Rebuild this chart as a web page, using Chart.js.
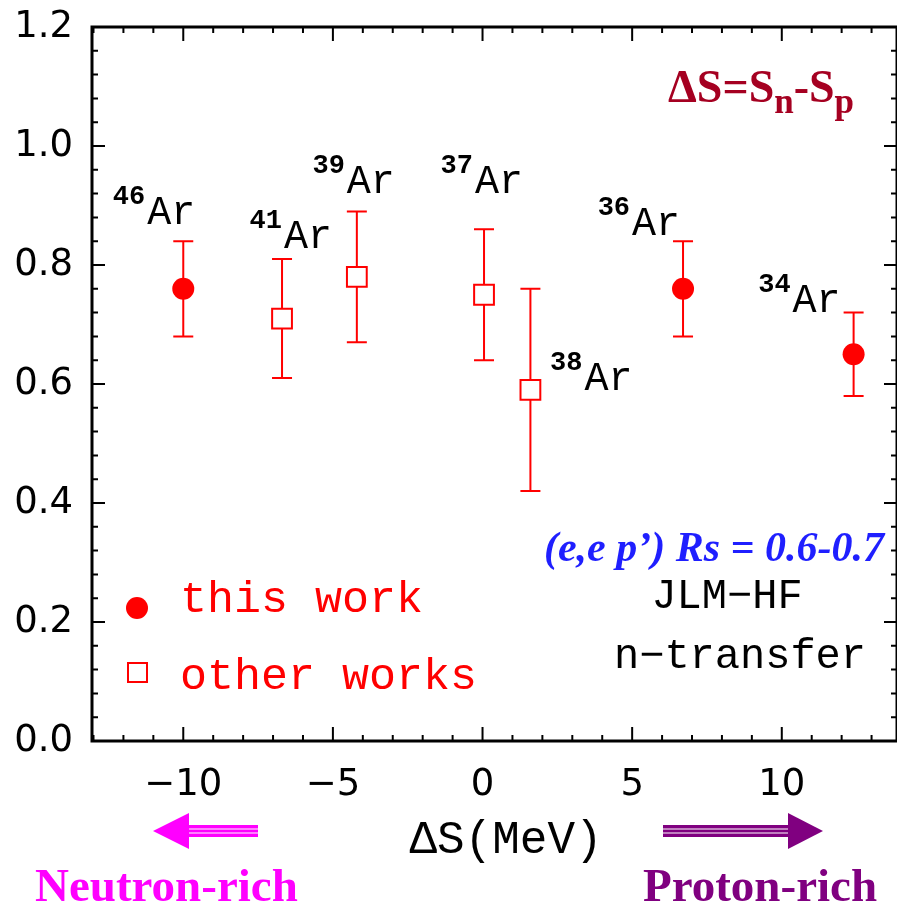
<!DOCTYPE html>
<html>
<head>
<meta charset="utf-8">
<title>Rs vs ΔS for Ar isotopes</title>
<script src="https://cdn.jsdelivr.net/npm/chart.js@4.4.1/dist/chart.umd.min.js"></script>
<style>
  html, body { margin: 0; padding: 0; background: #fff; overflow: hidden; }
  canvas { display: block; }
</style>
</head>
<body>
<canvas id="rsChart" width="897" height="906"></canvas>
<script>
// mass numbers of the Ar isotopes
let massNumbers = ['46', '41', '39', '37', '38', '36', '34']
// ΔS = Sn - Sp (MeV)
let deltaS = [-10.0, -6.7, -4.2, 0.05, 1.6, 6.7, 12.4]
// reduction factor Rs with its error bar limits
let rsValues = [0.76, 0.71, 0.78, 0.75, 0.59, 0.76, 0.65]
let rsLow = [0.68, 0.61, 0.67, 0.64, 0.42, 0.68, 0.58]
let rsHigh = [0.84, 0.81, 0.89, 0.86, 0.76, 0.84, 0.72]
let fromThisWork = [true, false, false, false, false, true, true]

let xTicks = [-10, -5, 0, 5, 10]
let yTicks = [0, 0.2, 0.4, 0.6, 0.8, 1.0, 1.2]

// where the isotope name sits: left edge of "Ar" and its baseline, relative to the point
let labelOffsets = [[-36, -65], [2, -71], [-10, -84], [-9, -102], [54, 0], [-51, -54], [-61, -42]]

const RED = '#ff0000'
const MONO = '"Liberation Mono", "DejaVu Sans Mono", monospace'
const SERIF = '"Liberation Serif", "DejaVu Serif", serif'

function pointsFor(flag) {
  let pts = []
  deltaS.forEach((x, i) => {
    if (fromThisWork[i] === flag) pts.push({ x: x, y: rsValues[i] })
  })
  return pts
}

let extras = {
  id: 'extras',
  beforeDatasetsDraw(chart) {
    let ctx = chart.ctx
    let xs = chart.scales.x, ys = chart.scales.y
    ctx.save()
    ctx.strokeStyle = RED
    ctx.lineWidth = 2
    deltaS.forEach((x, i) => {
      let px = xs.getPixelForValue(x)
      let lo = ys.getPixelForValue(rsLow[i])
      let hi = ys.getPixelForValue(rsHigh[i])
      ctx.beginPath()
      ctx.moveTo(px, lo); ctx.lineTo(px, hi)
      ctx.moveTo(px - 10, lo); ctx.lineTo(px + 10, lo)
      ctx.moveTo(px - 10, hi); ctx.lineTo(px + 10, hi)
      ctx.stroke()
    })
    ctx.restore()
  },
  afterDraw(chart) {
    let ctx = chart.ctx
    let ca = chart.chartArea
    let xs = chart.scales.x, ys = chart.scales.y
    ctx.save()

    // frame
    ctx.strokeStyle = '#000'
    ctx.lineWidth = 3
    ctx.strokeRect(ca.left, ca.top, ca.right - ca.left, ca.bottom - ca.top)

    // inward ticks on all four sides
    ctx.lineWidth = 2
    ctx.beginPath()
    for (let k = -13; k <= 13; k++) {
      let px = xs.getPixelForValue(k)
      let len = (k % 5 === 0) ? 14 : 6
      ctx.moveTo(px, ca.bottom); ctx.lineTo(px, ca.bottom - len)
      ctx.moveTo(px, ca.top); ctx.lineTo(px, ca.top + len)
    }
    for (let k = 0; k <= 30; k++) {
      let py = ys.getPixelForValue(k * 0.04)
      let len = (k % 5 === 0) ? 13 : 6
      ctx.moveTo(ca.left, py); ctx.lineTo(ca.left + len, py)
      ctx.moveTo(ca.right, py); ctx.lineTo(ca.right - len, py)
    }
    ctx.stroke()

    // isotope names
    ctx.fillStyle = '#000'
    ctx.textBaseline = 'alphabetic'
    deltaS.forEach((x, i) => {
      let px = xs.getPixelForValue(x) + labelOffsets[i][0]
      let py = ys.getPixelForValue(rsValues[i]) + labelOffsets[i][1]
      ctx.font = '40px ' + MONO
      ctx.textAlign = 'left'
      ctx.fillText('Ar', px, py)
      ctx.font = 'bold 27px ' + MONO
      ctx.textAlign = 'right'
      ctx.fillText(massNumbers[i], px - 2, py - 20)
    })

    // legend
    ctx.fillStyle = RED
    ctx.beginPath()
    ctx.arc(137, 608, 11, 0, Math.PI * 2)
    ctx.fill()
    ctx.strokeStyle = RED
    ctx.lineWidth = 2
    ctx.strokeRect(128, 663, 19, 19)
    ctx.font = '45px ' + MONO
    ctx.textAlign = 'left'
    ctx.fillText('this work', 180, 612)
    ctx.fillText('other works', 180, 689)

    // model notes
    ctx.fillStyle = '#1f1fff'
    ctx.font = 'italic bold 42px ' + SERIF
    ctx.textAlign = 'right'
    ctx.fillText('(e,e p\u2019) Rs = 0.6-0.7', 884, 561)
    ctx.fillStyle = '#000'
    ctx.font = '42px ' + MONO
    ctx.textAlign = 'center'
    ctx.fillText('JLM\u2212HF', 727, 608)
    ctx.fillText('n\u2212transfer', 740, 668)

    // ΔS definition
    ctx.fillStyle = '#a50021'
    ctx.textAlign = 'left'
    let tx = 668
    let parts = [['\u0394S=S', 0, 46], ['n', 11, 35], ['-S', 0, 46], ['p', 11, 35]]
    parts.forEach(p => {
      ctx.font = 'bold ' + p[2] + 'px ' + SERIF
      ctx.fillText(p[0], tx, 102 + p[1])
      tx += ctx.measureText(p[0]).width
    })

    // axis title
    ctx.fillStyle = '#000'
    ctx.font = '46px ' + MONO
    ctx.textAlign = 'center'
    ctx.fillText('\u0394S(MeV)', 506, 853)

    // direction arrows
    drawArrow(ctx, 258, 189, 153, 831, '#ff00ff')
    drawArrow(ctx, 663, 788, 823, 831, '#800080')

    ctx.font = 'bold 47px ' + SERIF
    ctx.textAlign = 'left'
    ctx.fillStyle = '#ff00ff'
    ctx.fillText('Neutron-rich', 35, 901)
    ctx.fillStyle = '#800080'
    ctx.fillText('Proton-rich', 643, 901)

    ctx.restore()
  }
}

// triple-lined shaft from x0 to x1, triangular head from x1 to the tip
function drawArrow(ctx, x0, x1, tip, y, color) {
  ctx.fillStyle = color
  let a = Math.min(x0, x1), b = Math.max(x0, x1)
  ctx.fillRect(a, y - 6, b - a, 12)
  ctx.fillStyle = '#fff'
  ctx.fillRect(a, y - 2.5, b - a, 1)
  ctx.fillRect(a, y + 1.5, b - a, 1)
  ctx.fillStyle = color
  ctx.beginPath()
  ctx.moveTo(x1, y - 18)
  ctx.lineTo(tip, y)
  ctx.lineTo(x1, y + 18)
  ctx.closePath()
  ctx.fill()
}

let ctx = document.querySelector('#rsChart').getContext('2d')

let rsChart = new Chart(ctx, {
  type: 'scatter',
  data: {
    datasets: [{
      label: 'this work',
      data: pointsFor(true),
      pointStyle: 'circle',
      pointRadius: 11,
      backgroundColor: RED,
      borderColor: RED,
      borderWidth: 0
    }, {
      label: 'other works',
      data: pointsFor(false),
      pointStyle: 'rect',
      pointRadius: 14,
      backgroundColor: '#fff',
      borderColor: RED,
      borderWidth: 2
    }]
  },
  options: {
    responsive: false,
    animation: false,
    events: [],
    // no extra room for the markers: the frame runs to the right edge of the canvas
    layout: { autoPadding: false, padding: { top: 27, right: 0, left: 0, bottom: 0 } },
    plugins: {
      legend: { display: false },
      tooltip: { enabled: false }
    },
    scales: {
      x: {
        type: 'linear',
        min: -13.05,
        max: 13.85,
        afterBuildTicks: s => { s.ticks = xTicks.map(v => ({ value: v })) },
        afterFit: s => { s.height = 165; s.paddingLeft = 0; s.paddingRight = 0 },
        grid: { display: false, drawTicks: false },
        border: { display: false },
        ticks: {
          font: { family: '"DejaVu Sans", sans-serif', size: 37 },
          color: '#000',
          padding: 22,
          maxRotation: 0,
          autoSkip: false,
          callback: v => v < 0 ? '\u2212' + Math.abs(v) : String(v)
        }
      },
      y: {
        min: 0,
        max: 1.2,
        afterBuildTicks: s => { s.ticks = yTicks.map(v => ({ value: v })) },
        afterFit: s => { s.width = 92; s.paddingTop = 0; s.paddingBottom = 0 },
        grid: { display: false, drawTicks: false },
        border: { display: false },
        ticks: {
          font: { family: '"DejaVu Sans", sans-serif', size: 37 },
          color: '#000',
          padding: 19,
          autoSkip: false,
          callback: v => v.toFixed(1)
        }
      }
    }
  },
  plugins: [extras]
})
</script>
</body>
</html>
